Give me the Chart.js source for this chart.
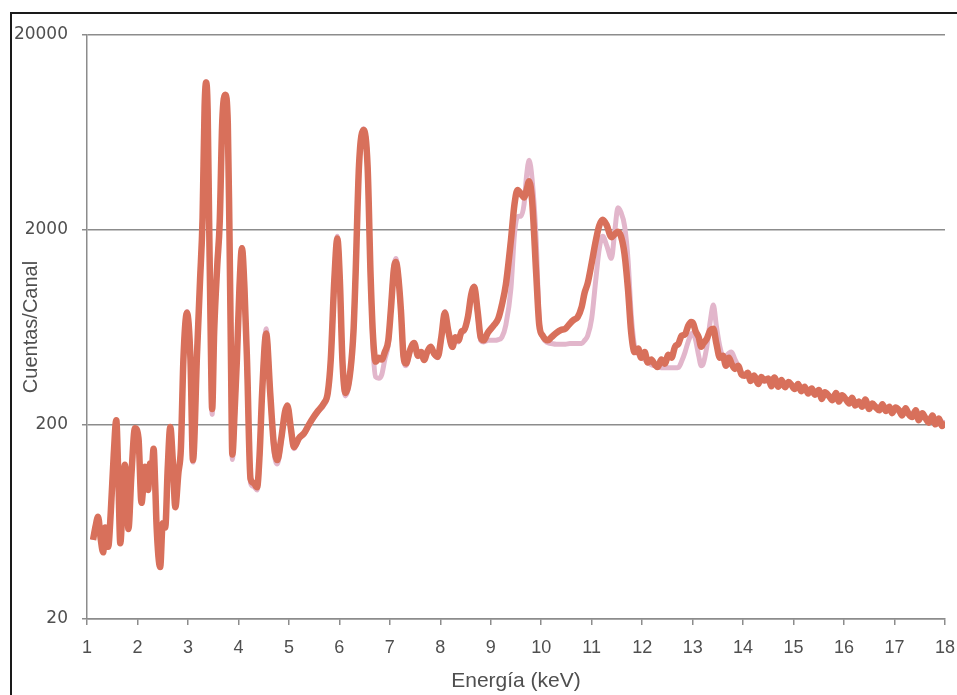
<!DOCTYPE html>
<html>
<head>
<meta charset="utf-8">
<script src="https://cdn.jsdelivr.net/npm/chart.js@4.4.1/dist/chart.umd.min.js"></script>
<style>
  html, body { margin: 0; padding: 0; background: #fff; overflow: hidden; }
  #marco { position: absolute; left: 10px; top: 12px; width: 980px; height: 720px; border: 2px solid #1a1a1a; box-sizing: border-box; }
  #grafico-espectro { position: absolute; left: 0; top: 0; }
</style>
</head>
<body>
<div id="marco"></div>
<canvas id="grafico-espectro" width="957" height="695"></canvas>
<script>
// === Datos ===
const energia = [
  1.12, 1.17, 1.22, 1.27, 1.32, 1.36, 1.42, 1.47, 1.53, 1.58,
  1.62, 1.66, 1.71, 1.75, 1.79, 1.82, 1.88, 1.95, 2.02, 2.08,
  2.12, 2.15, 2.21, 2.25, 2.28, 2.32, 2.35, 2.38, 2.45, 2.50,
  2.55, 2.60, 2.65, 2.70, 2.75, 2.81, 2.86, 2.91, 2.98, 3.05,
  3.10, 3.18, 3.24, 3.29, 3.33, 3.36, 3.39, 3.42, 3.45, 3.48,
  3.52, 3.58, 3.63, 3.68, 3.74, 3.79, 3.82, 3.85, 3.88, 3.93,
  3.97, 4.02, 4.07, 4.12, 4.17, 4.24, 4.30, 4.37, 4.42, 4.47,
  4.55, 4.63, 4.70, 4.77, 4.85, 4.92, 4.97, 5.04, 5.10, 5.20,
  5.30, 5.40, 5.49, 5.58, 5.69, 5.77, 5.83, 5.90, 5.96, 6.01,
  6.06, 6.12, 6.22, 6.28, 6.32, 6.39, 6.48, 6.56, 6.62, 6.67,
  6.72, 6.78, 6.84, 6.90, 6.97, 7.02, 7.08, 7.12, 7.16, 7.22,
  7.27, 7.32, 7.40, 7.48, 7.56, 7.62, 7.68, 7.74, 7.81, 7.88,
  7.95, 8.02, 8.09, 8.16, 8.24, 8.30, 8.36, 8.42, 8.47, 8.55,
  8.61, 8.67, 8.74, 8.80, 8.86, 8.94, 9.07, 9.15, 9.22, 9.30,
  9.40, 9.47, 9.53, 9.60, 9.66, 9.71, 9.76, 9.82, 9.90, 9.96,
  10.03, 10.13, 10.20, 10.30, 10.39, 10.48, 10.57, 10.65, 10.72, 10.80,
  10.86, 10.92, 11.00, 11.08, 11.15, 11.22, 11.30, 11.39, 11.46, 11.52,
  11.58, 11.65, 11.72, 11.78, 11.85, 11.92, 11.98, 12.05, 12.11, 12.18,
  12.25, 12.31, 12.38, 12.45, 12.52, 12.58, 12.65, 12.72, 12.78, 12.85,
  12.91, 12.97, 13.01, 13.06, 13.12, 13.17, 13.21, 13.28, 13.35, 13.41,
  13.47, 13.54, 13.60, 13.66, 13.72, 13.77, 13.84, 13.90, 13.97, 14.03,
  14.09, 14.15, 14.22, 14.30, 14.36, 14.42, 14.50, 14.56, 14.62, 14.70,
  14.76, 14.83, 14.90, 14.96, 15.02, 15.09, 15.15, 15.22, 15.29, 15.36,
  15.42, 15.50, 15.56, 15.62, 15.70, 15.77, 15.84, 15.90, 15.96, 16.03,
  16.10, 16.16, 16.22, 16.29, 16.36, 16.42, 16.50, 16.56, 16.62, 16.70,
  16.76, 16.83, 16.90, 16.95, 17.02, 17.09, 17.15, 17.22, 17.28, 17.35,
  17.42, 17.48, 17.55, 17.61, 17.68, 17.75, 17.81, 17.88, 17.94, 18.00
];

// espectro principal (rojo)
const cuentasA = [
  51, 60, 67, 52, 44, 59, 47, 70, 140, 210,
  110, 49, 85, 124, 90, 58, 110, 191, 170, 79,
  100, 121, 92, 126, 115, 150, 100, 59, 37, 62,
  59, 120, 194, 130, 75, 112, 150, 430, 748, 430,
  131, 460, 1100, 2300, 8500, 11400, 8300, 2200, 600, 240,
  600, 1300, 2200, 7200, 9860, 7000, 2200, 500, 140, 250,
  430, 1000, 1604, 1000, 430, 105, 100, 95, 140, 290,
  585, 290, 160, 131, 170, 230, 250, 190, 153, 170,
  180, 200, 218, 235, 256, 290, 430, 1100, 1800, 1100,
  430, 290, 380, 600, 1140, 4300, 6500, 4200, 1140, 550,
  420, 440, 430, 470, 540, 770, 1250, 1365, 1200, 770,
  450, 411, 480, 524, 450, 470, 428, 470, 500, 460,
  445, 560, 748, 600, 500, 560, 540, 600, 610, 720,
  920, 1016, 760, 560, 540, 590, 650, 700, 820, 1050,
  1770, 2700, 3200, 3050, 2930, 3200, 3550, 2800, 1190, 650,
  570, 540, 560, 590, 610, 620, 660, 690, 710, 800,
  950, 1060, 1350, 1750, 2100, 2250, 2100, 1830, 1900, 1950,
  1850, 1500, 980, 600, 470, 490, 440, 470, 415, 430,
  405, 394, 430, 410, 455, 440, 500, 520, 570, 580,
  640, 670, 660, 600, 560, 500, 520, 550, 610, 620,
  520, 440, 450, 400, 440, 410, 385, 400, 360, 355,
  368, 334, 356, 322, 350, 336, 344, 314, 348, 312,
  338, 310, 330, 318, 304, 322, 296, 312, 288, 306,
  284, 300, 270, 292, 280, 266, 290, 262, 282, 270,
  256, 274, 250, 262, 246, 268, 240, 256, 246, 236,
  254, 234, 246, 228, 244, 236, 222, 242, 226, 218,
  236, 210, 228, 216, 204, 222, 200, 214, 196, 206
];

// segundo espectro (rosa, detrás)
const cuentasB = [
  51, 60, 67, 52, 44, 59, 47, 70, 140, 210,
  110, 49, 85, 124, 90, 58, 110, 191, 170, 79,
  100, 121, 92, 126, 115, 150, 100, 59, 37, 62,
  59, 120, 194, 130, 75, 112, 150, 430, 760, 430,
  128, 460, 1100, 2300, 8600, 11500, 8300, 2200, 560, 225,
  580, 1300, 2200, 7200, 9900, 7000, 2200, 480, 132, 240,
  430, 1000, 1620, 1000, 420, 100, 96, 92, 140, 300,
  620, 290, 150, 125, 165, 230, 250, 188, 150, 168,
  178, 198, 215, 232, 250, 285, 430, 1120, 1850, 1100,
  420, 280, 370, 600, 1150, 4350, 6600, 4200, 1100, 480,
  350, 345, 360, 430, 520, 790, 1300, 1420, 1240, 760,
  440, 400, 470, 515, 445, 465, 425, 465, 495, 455,
  440, 550, 760, 590, 495, 550, 530, 590, 600, 720,
  930, 1030, 740, 540, 530, 540, 540, 545, 560, 650,
  1000, 1900, 2330, 2350, 2700, 3800, 4550, 3600, 1770, 680,
  560, 525, 520, 515, 515, 515, 520, 520, 520, 520,
  540, 570, 700, 1100, 1600, 1850, 1650, 1425, 2000, 2590,
  2450, 2100, 1400, 750, 500, 460, 440, 430, 415, 405,
  400, 394, 390, 390, 390, 390, 390, 392, 420, 470,
  530, 580, 590, 540, 450, 400, 410, 500, 680, 820,
  640, 500, 450, 450, 465, 470, 430, 400, 370, 355,
  352, 345, 342, 337, 336, 334, 333, 330, 328, 325,
  323, 322, 322, 320, 310, 306, 300, 298, 294, 292,
  290, 287, 284, 282, 279, 278, 276, 274, 272, 268,
  265, 262, 260, 258, 256, 254, 251, 249, 248, 246,
  243, 240, 238, 237, 235, 234, 232, 231, 229, 227,
  224, 222, 220, 216, 214, 212, 210, 208, 206, 203
];

const ticksY = [20, 200, 2000, 20000];

// === Estilos ===
const gris = "#8c8c8c";
const grisTexto = "#4f4f4f";

const puntos = (ys) => energia.map((x, i) => ({ x, y: ys[i] }));

// === Gráfico ===
const ctx = document.getElementById("grafico-espectro").getContext("2d");

new Chart(ctx, {
  type: "line",
  data: {
    datasets: [
      {
        label: "A",
        data: puntos(cuentasA),
        borderColor: "#d8705b",
        borderWidth: 6.5,
        pointRadius: 0,
        cubicInterpolationMode: "monotone",
        order: 0
      },
      {
        label: "B",
        data: puntos(cuentasB),
        borderColor: "#e2b6cb",
        borderWidth: 5,
        pointRadius: 0,
        cubicInterpolationMode: "monotone",
        order: 1
      }
    ]
  },
  options: {
    responsive: false,
    animation: false,
    layout: { padding: { top: 35, right: 12, left: 0, bottom: 0 } },
    plugins: {
      legend: { display: false },
      tooltip: { enabled: false }
    },
    scales: {
      x: {
        type: "linear",
        min: 1,
        max: 18,
        afterFit: (s) => { s.height = 76; s.paddingRight = 0; s.paddingLeft = 0; },
        ticks: {
          stepSize: 1,
          color: grisTexto,
          padding: 12,
          font: { family: "'Liberation Sans', sans-serif", size: 18 }
        },
        grid: { drawOnChartArea: false, drawTicks: true, tickLength: 6, color: gris, lineWidth: 1.5 },
        border: { display: true, color: gris, width: 1.5 },
        title: {
          display: true,
          text: "Energía (keV)",
          color: grisTexto,
          padding: { top: 0, bottom: 1 },
          font: { family: "'Liberation Sans', sans-serif", size: 21 }
        }
      },
      y: {
        type: "logarithmic",
        min: 20,
        max: 20000,
        afterFit: (s) => { s.width = 87; },
        afterBuildTicks: (s) => { s.ticks = ticksY.map(v => ({ value: v })); },
        ticks: {
          color: grisTexto,
          padding: 14,
          callback: (v) => String(v),
          font: { family: "'DejaVu Sans', sans-serif", size: 17 }
        },
        grid: { color: gris, lineWidth: 1.5, tickLength: 5 },
        border: { display: true, color: gris, width: 1.5 },
        title: {
          display: true,
          text: "Cuentas/Canal",
          color: grisTexto,
          padding: { top: 19, bottom: 0 },
          font: { family: "'Liberation Sans', sans-serif", size: 20 }
        }
      }
    }
  }
});
</script>
</body>
</html>
